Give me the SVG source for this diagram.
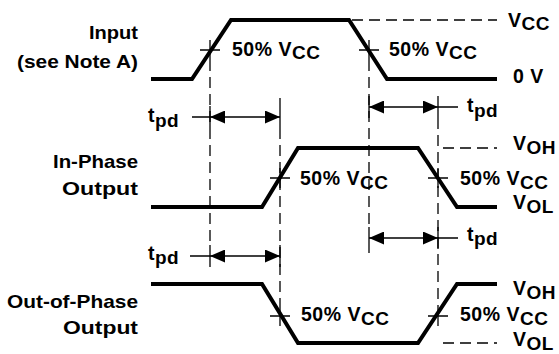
<svg xmlns="http://www.w3.org/2000/svg" width="559" height="354" viewBox="0 0 559 354">
<defs>
<style>
.wave{fill:none;stroke:#000;stroke-width:4;stroke-linejoin:miter}
.dash{fill:none;stroke:#000;stroke-width:1.3;stroke-dasharray:11 6}
.thin{fill:none;stroke:#000;stroke-width:1.3}
.arr{fill:none;stroke:#000;stroke-width:1.3;marker-start:url(#ah);marker-end:url(#ah)}
text{font-family:"Liberation Sans",Arial,sans-serif;font-weight:bold;font-size:19.5px;fill:#000;letter-spacing:0.5px}
.lbl{text-anchor:end;font-size:18.5px;letter-spacing:0}
.sub{font-size:19px}
</style>
<marker id="ah" viewBox="0 0 15 13" refX="15" refY="6.5" markerWidth="15" markerHeight="13" markerUnits="userSpaceOnUse" orient="auto-start-reverse">
<path d="M0,0 L15,6.5 L0,13 z" fill="#000"/>
</marker>
</defs>
<rect width="559" height="354" fill="#fff"/>

<g id="input">
<text class="lbl" x="138" y="39" textLength="49" lengthAdjust="spacingAndGlyphs">Input</text>
<text class="lbl" x="138" y="68" textLength="121" lengthAdjust="spacingAndGlyphs">(see Note A)</text>
<path class="wave" d="M151,79 H192 L231,20 H349 L387,79 H497"/>
<path class="dash" d="M352,20 H497"/>
<text x="232" y="56">50% V<tspan class="sub" dy="3">CC</tspan></text>
<text x="389" y="56">50% V<tspan class="sub" dy="3">CC</tspan></text>
<text x="508" y="27">V<tspan class="sub" dy="3">CC</tspan></text>
<text x="513" y="83">0 V</text>
</g>

<g id="in-phase">
<text class="lbl" x="138" y="168" textLength="85" lengthAdjust="spacingAndGlyphs">In-Phase</text>
<text class="lbl" x="138" y="195" textLength="76" lengthAdjust="spacingAndGlyphs">Output</text>
<path class="wave" d="M151,207 H262 L298,148 H418 L457,207 H497"/>
<path class="dash" d="M443,148 H497"/>
<text x="300" y="185">50% V<tspan class="sub" dy="4">CC</tspan></text>
<text x="460" y="185">50% V<tspan class="sub" dy="4">CC</tspan></text>
<text x="513" y="150">V<tspan class="sub" dy="4">OH</tspan></text>
<text x="513" y="209">V<tspan class="sub" dy="4">OL</tspan></text>
</g>

<g id="out-of-phase">
<text class="lbl" x="138" y="308" textLength="131" lengthAdjust="spacingAndGlyphs">Out-of-Phase</text>
<text class="lbl" x="138" y="334" textLength="75" lengthAdjust="spacingAndGlyphs">Output</text>
<path class="wave" d="M151,284 H262 L298,343 H418 L457,284 H497"/>
<path class="dash" d="M443,343 H497"/>
<text x="301" y="321">50% V<tspan class="sub" dy="4">CC</tspan></text>
<text x="460" y="321">50% V<tspan class="sub" dy="4">CC</tspan></text>
<text x="513" y="295">V<tspan class="sub" dy="4">OH</tspan></text>
<text x="513" y="346">V<tspan class="sub" dy="4">OL</tspan></text>
</g>

<g id="connectors">
<path class="dash" d="M210,60 V245"/>
<path class="dash" d="M280,128 V306"/>
<path class="dash" d="M369,60 V227"/>
<path class="dash" d="M438,118 V306"/>
<path class="thin" d="M200,50 H220 M210,40 V60 M359,50 H379 M369,40 V60 M270,178 H290 M280,168 V188 M428,178 H448 M438,168 V188 M270,316 H290 M280,306 V326 M428,316 H448 M438,306 V326"/>
<path class="thin" d="M210,106 V128 M280,98 V128 M369,96 V118 M438,96 V118 M369,227 V253 M438,227 V249 M210,245 V267 M280,245 V267"/>
<path class="thin" d="M192,117 H210 M438,107 H458 M438,238 H458 M190,256 H210"/>
<path class="arr" d="M210,117 H280"/>
<path class="arr" d="M369,107 H438"/>
<path class="arr" d="M369,238 H438"/>
<path class="arr" d="M210,256 H280"/>
<text x="148" y="122">t<tspan class="sub" dy="5">pd</tspan></text>
<text x="467" y="112">t<tspan class="sub" dy="5">pd</tspan></text>
<text x="467" y="241">t<tspan class="sub" dy="4">pd</tspan></text>
<text x="148" y="260">t<tspan class="sub" dy="4">pd</tspan></text>
</g>
</svg>
